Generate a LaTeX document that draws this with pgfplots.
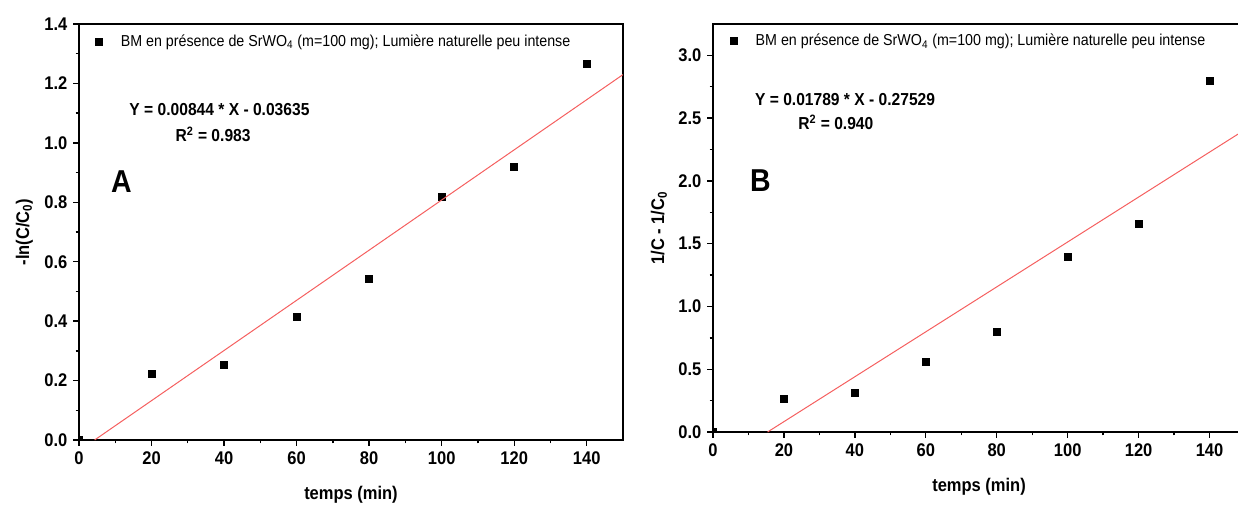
\documentclass[border=0pt]{standalone}
\usepackage{pgfplots}
\pgfplotsset{compat=1.18}
\usepackage{fontspec}
\setmainfont{Liberation Sans}[FakeStretch=0.9]
\definecolor{fitred}{RGB}{245,95,95}

\pgfplotsset{
  panel/.style={
    scale only axis,
    anchor=south west,
    axis line style={line width=0.9pt},
    tick pos=left,
    tick align=outside,
    major tick length=3.5pt,
    minor tick length=2pt,
    every tick/.style={line width=0.8pt, black},
    minor x tick num=1,
    minor y tick num=1,
    xmin=0, xmax=150,
    xtick={0,20,...,140},
    clip marker paths=true,
    /pgf/number format/assume math mode=true,
    ticklabel style={font=\fontsize{11}{13}\selectfont\bfseries},
    label style={font=\fontsize{11}{13}\selectfont\bfseries},
    xlabel={temps (min)},
    xlabel style={yshift=-6pt},
    legend style={draw=none, fill=none, font=\fontsize{9.5}{11}\selectfont, inner sep=1pt},
    legend cell align=left,
    legend image code/.code={
      \path[draw=none, fill=none] (0cm,0cm) (0.62cm,0cm);
      \draw[##1] plot coordinates {(0.22cm,0cm)};
    },
  },
}

\begin{document}
\begin{tikzpicture}
\useasboundingbox (0,0) rectangle (742.8pt,304.8pt);

% ---- panneau A : -ln(C/C0)
\begin{axis}[panel,
  at={(47.4pt,40.8pt)}, width=326.4pt, height=249.6pt,
  ymin=0, ymax=1.4, ytick={0,0.2,...,1.4},
  yticklabel style={/pgf/number format/.cd, fixed, fixed zerofill, precision=1},
  ylabel={-ln(C/C\textsubscript{0})},
  legend style={at={(0.013,0.958)}, anchor=west},
]
  \addplot[only marks, mark=square*, mark size=2.1pt, black] coordinates {
    (0,0) (20,0.222) (40,0.252) (60,0.415) (80,0.543) (100,0.819) (120,0.919) (140,1.267)
  };
  \addlegendentry{BM en présence de SrWO\textsubscript{4} (m=100 mg); Lumière naturelle peu intense}
  % droite de régression Y = 0.00844 X - 0.03635
  \addplot[fitred, line width=0.6pt, forget plot] coordinates {(4.307,0) (150,1.2297)};
  \node[font=\fontsize{10.4}{12}\selectfont\bfseries, anchor=west] at (axis cs:12.3,1.111) {Y = 0.00844 * X - 0.03635};
  \node[font=\fontsize{10.4}{12}\selectfont\bfseries, anchor=west] at (axis cs:25,1.027) {R\textsuperscript{2} = 0.983};
  \node[font=\fontsize{19}{22}\selectfont\bfseries] at (axis cs:11.7,0.871) {A};
\end{axis}

% ---- panneau B : 1/C - 1/C0
\begin{axis}[panel,
  at={(427.8pt,45.6pt)}, width=319.2pt, height=244.8pt,
  ymin=0, ymax=3.25, ytick={0,0.5,...,3.0},
  yticklabel style={/pgf/number format/.cd, fixed, fixed zerofill, precision=1},
  ylabel={1/C - 1/C\textsubscript{0}},
  legend style={at={(0.015,0.958)}, anchor=west},
]
  \addplot[only marks, mark=square*, mark size=2.1pt, black] coordinates {
    (0,0) (20,0.267) (40,0.315) (60,0.561) (80,0.794) (100,1.394) (120,1.656) (140,2.80)
  };
  \addlegendentry{BM en présence de SrWO\textsubscript{4} (m=100 mg); Lumière naturelle peu intense}
  % droite de régression Y = 0.01789 X - 0.27529
  \addplot[fitred, line width=0.6pt, forget plot] coordinates {(15.388,0) (150,2.4082)};
  \node[font=\fontsize{10.4}{12}\selectfont\bfseries, anchor=west] at (axis cs:10.2,2.648) {Y = 0.01789 * X - 0.27529};
  \node[font=\fontsize{10.4}{12}\selectfont\bfseries, anchor=west] at (axis cs:22.4,2.463) {R\textsuperscript{2} = 0.940};
  \node[font=\fontsize{19}{22}\selectfont\bfseries] at (axis cs:13.4,2.0) {B};
\end{axis}
\end{tikzpicture}
\end{document}
